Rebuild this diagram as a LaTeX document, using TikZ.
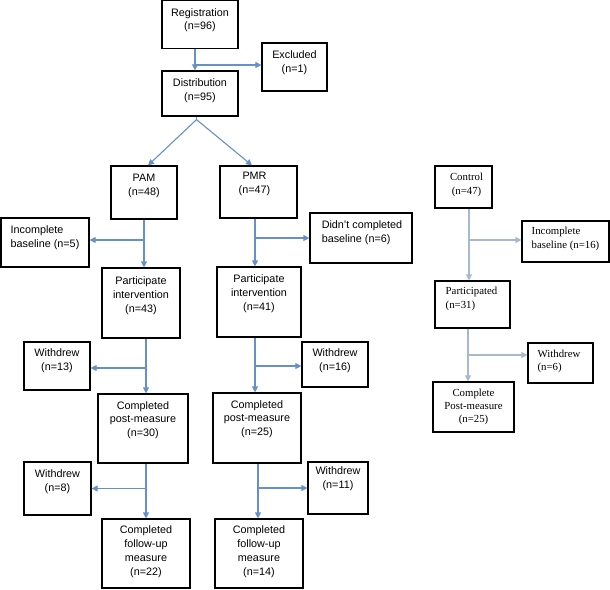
\documentclass[tikz,border=0pt]{standalone}
\usepackage{fontspec}
\newfontfamily\arialf{Liberation Sans}
\newfontfamily\timesf{Liberation Serif}
\usetikzlibrary{arrows.meta}
\definecolor{arrblue}{RGB}{100,145,200}
\definecolor{arrgray}{RGB}{168,184,210}
\tikzset{
 box/.style={draw=black, line width=1.2pt, inner sep=0pt},
 sanstxt/.style={font=\arialf\fontsize{10.8}{13.8}\selectfont, align=center, inner sep=0pt},
 sanslft/.style={sanstxt, align=left},
 seriftxt/.style={font=\timesf\fontsize{10.8}{13.3}\selectfont, align=center, inner sep=0pt},
 seriflft/.style={seriftxt, align=left},
 flow/.style={draw=arrblue, line width=1.1pt, -{Triangle[length=6pt,width=6pt]}},
 flowc/.style={draw=arrgray, line width=1.1pt, -{Triangle[length=6pt,width=6pt]}},
}
\newcommand\bx[8]{%
 \node[box, minimum width=#4pt, minimum height=#5pt] (#1) at (#2,#3) {};
 \node[#7] (#1t) at ([yshift=#6pt]#1.center) {#8};}
\begin{document}
\begin{tikzpicture}[x=1pt,y=-1pt]
\useasboundingbox (0,0) rectangle (610,589);
% boxes: name, cx, cy, w, h, text yshift, style, text
\bx{reg}{200}{24.8}{76}{48}{4.5}{sanstxt}{Registration\\(n=96)}
\bx{excl}{294.5}{67}{65}{48}{4}{sanstxt}{Excluded\\(n=1)}
\bx{dist}{200}{93.5}{76}{45}{3}{sanstxt}{Distribution\\(n=95)}
\bx{pam}{144}{192.5}{66}{53}{6.5}{sanstxt}{PAM\\(n=48)}
\bx{pmr}{258.5}{192}{77}{52}{8}{{sanstxt,xshift=-4pt}}{PMR\\(n=47)}
\bx{incA}{45}{242.5}{88}{49}{5}{sanslft}{Incomplete\\baseline (n=5)}
\bx{didnt}{361}{238}{102}{50}{5}{{sanslft,xshift=1pt}}{Didn’t completed\\baseline (n=6)}
\bx{partA}{141}{303}{78}{70}{7}{sanstxt}{Participate\\intervention\\(n=43)}
\bx{partB}{259}{302}{84}{70}{8}{sanstxt}{Participate\\intervention\\(n=41)}
\bx{wdA1}{57}{366}{66}{48}{5}{sanstxt}{Withdrew\\(n=13)}
\bx{wdB1}{335}{364.5}{66}{45}{4}{sanstxt}{Withdrew\\(n=16)}
\bx{postA}{143}{428.5}{90}{69}{8.5}{sanstxt}{Completed\\post-measure\\(n=30)}
\bx{postB}{257}{428}{88}{70}{9}{sanstxt}{Completed\\post-measure\\(n=25)}
\bx{wdA2}{57.5}{488.5}{67}{53}{7}{sanstxt}{Withdrew\\(n=8)}
\bx{wdB2}{338}{488}{60}{52}{9}{sanstxt}{Withdrew\\(n=11)}
\bx{fuA}{146}{553.5}{88}{69}{2}{sanstxt}{Completed\\follow-up\\measure\\(n=22)}
\bx{fuB}{259}{553.5}{88}{69}{2}{sanstxt}{Completed\\follow-up\\measure\\(n=14)}
\bx{ctrl}{463.5}{187}{57}{42}{2}{{seriftxt,xshift=3pt}}{Control\\(n=47)}
\bx{incC}{565.5}{241.5}{87}{41}{2.5}{seriflft}{Incomplete\\baseline (n=16)}
\bx{partC}{472.5}{304.5}{75}{47}{5.5}{{seriflft,xshift=-1pt}}{Participated\\(n=31)}
\bx{wdC}{560.5}{363}{65}{40}{1.5}{{seriflft,xshift=-1.5pt}}{Withdrew\\(n=6)}
\bx{postC}{473.5}{407}{81}{50}{0}{seriftxt}{Complete\\Post-measure\\(n=25)}
% registration -> distribution, excluded
\coordinate (rd) at ([xshift=-5pt]reg.south);
\draw[flow] (rd) -- (rd |- dist.north);
\coordinate (ex) at ([yshift=2pt]excl.west);
\draw[flow] (rd |- ex) -- (ex);
% distribution -> groups
\coordinate (apex) at ([xshift=-3.5pt,yshift=-3pt]dist.south);
\draw[draw=arrblue, line width=1.1pt] (dist.south -| apex) -- (apex);
\draw[flow] (apex) -- ([xshift=4pt]pam.north);
\draw[flow] (apex) -- ([xshift=-6.5pt]pmr.north);
% PAM column
\coordinate (a1) at (pam.south);
\draw[flow] (a1) -- (a1 |- partA.north);
\coordinate (ia) at ([yshift=2.5pt]incA.east);
\draw[flow] (a1 |- ia) -- (ia);
\coordinate (a2) at ([xshift=5pt]partA.south);
\draw[flow] (a2) -- (a2 |- postA.north);
\coordinate (w1) at ([yshift=-2pt]wdA1.east);
\draw[flow] (a2 |- w1) -- (w1);
\coordinate (a3) at (postA.south -| fuA.north);
\draw[flow] (a3) -- (fuA.north);
\draw[flow] (a3 |- wdA2.east) -- (wdA2.east);
% PMR column
\coordinate (b1) at ([xshift=-3.5pt]pmr.south);
\draw[flow] (b1) -- (b1 |- partB.north);
\draw[flow] (b1 |- didnt.west) -- (didnt.west);
\coordinate (b2) at ([xshift=-4pt]partB.south);
\draw[flow] (b2) -- (b2 |- postB.north);
\coordinate (w3) at ([yshift=-1.5pt]wdB1.west);
\draw[flow] (b2 |- w3) -- (w3);
\coordinate (b3) at ([xshift=1pt]postB.south);
\draw[flow] (b3) -- (b3 |- fuB.north);
\draw[flow] (b3 |- wdB2.west) -- (wdB2.west);
% Control column
\coordinate (c1) at ([xshift=5.5pt]ctrl.south);
\draw[flowc] (c1) -- (c1 |- partC.north);
\coordinate (ic) at ([yshift=1.5pt]incC.west);
\draw[flowc] (c1 |- ic) -- (ic);
\coordinate (c2) at ([xshift=-4.5pt]partC.south);
\draw[flowc] (c2) -- (c2 |- postC.north);
\coordinate (wc) at ([yshift=8pt]wdC.west);
\draw[flowc] (c2 |- wc) -- (wc);
\end{tikzpicture}
\end{document}
